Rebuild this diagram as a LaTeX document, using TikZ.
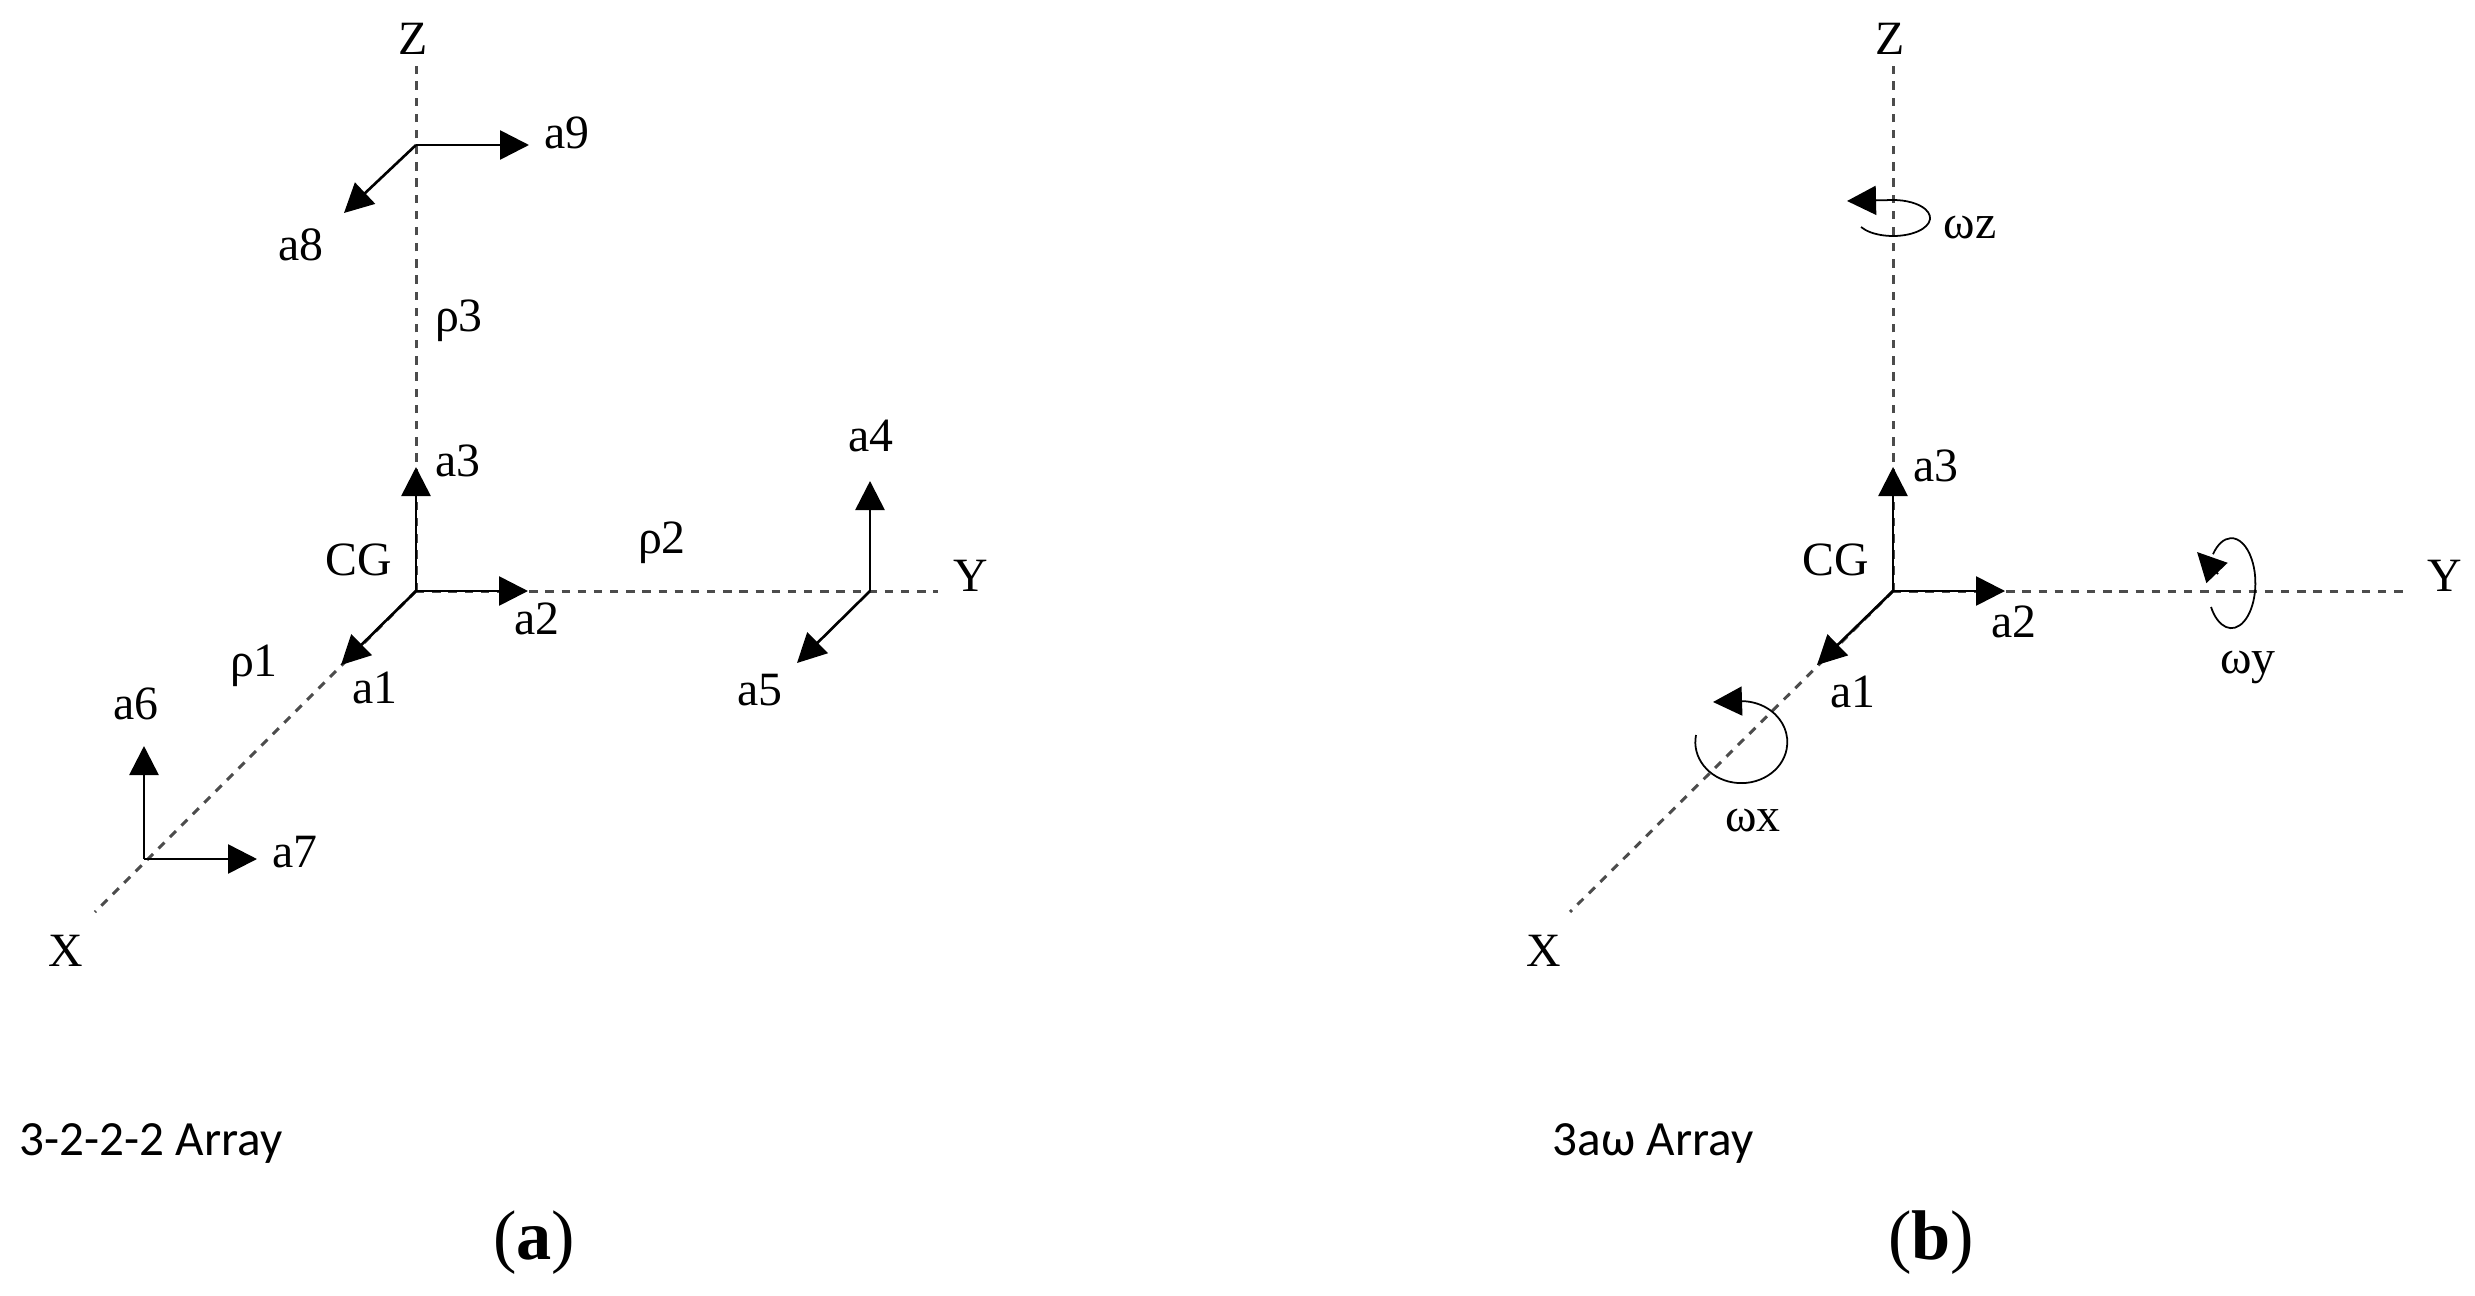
\documentclass[tikz,border=0pt]{standalone}
\usepackage{fontspec}
\setmainfont{Liberation Serif}
\newfontfamily\capfont{Carlito}
\usetikzlibrary{arrows.meta}
\tikzset{
  axisline/.style={line width=0.85pt,black!70,dash pattern=on 2.4pt off 2.2pt},
  vec/.style={line width=0.75pt,-{Triangle[length=2.9mm,width=2.9mm]}},
  rotvec/.style={line width=0.5pt,-{Triangle[length=2.9mm,width=2.9mm]}},
  lab/.style={inner sep=0pt,font=\fontsize{13.6}{16}\selectfont},
  arrayname/.style={inner sep=0pt,anchor=west,font=\capfont\fontsize{14}{16}\selectfont},
  subfig/.style={inner sep=0pt,font=\fontsize{20}{24}\selectfont}
}
\begin{document}
\begin{tikzpicture}
\useasboundingbox (0,0) rectangle (24.75,12.95);
% left picture
\coordinate (cgl) at (4.16,7.04);
\coordinate (zendl) at (4.16,12.29);
\coordinate (yendl) at (9.38,7.04);
\coordinate (xendl) at (0.95,3.83);
\coordinate (a1tipl) at (3.41,6.30);
\coordinate (a2tipl) at (5.28,7.04);
\coordinate (a3tipl) at (4.16,8.28);
\coordinate (p2) at (8.70,7.04);
\coordinate (a4tip) at (8.70,8.14);
\coordinate (a5tip) at (7.97,6.32);
\coordinate (p1) at (1.44,4.36);
\coordinate (a6tip) at (1.44,5.49);
\coordinate (a7tip) at (2.57,4.36);
\coordinate (p3) at (4.16,11.50);
\coordinate (a8tip) at (3.44,10.82);
\coordinate (a9tip) at (5.29,11.50);
\draw[axisline] (cgl) -- (zendl);
\draw[axisline] (cgl) -- (yendl);
\draw[axisline] (cgl) -- (xendl);
\draw[vec] (cgl) -- (a1tipl);
\draw[vec] (cgl) -- (a2tipl);
\draw[vec] (cgl) -- (a3tipl);
\draw[vec] (p2) -- (a4tip);
\draw[vec] (p2) -- (a5tip);
\draw[vec] (p1) -- (a6tip);
\draw[vec] (p1) -- (a7tip);
\draw[vec] (p3) -- (a8tip);
\draw[vec] (p3) -- (a9tip);
\node[lab] (zl) at (4.13,12.56) {Z};
\node[lab] (yl) at (9.71,7.19) {Y};
\node[lab] (xl) at (0.66,3.44) {X};
\node[lab] (cgnamel) at (3.59,7.35) {CG};
\node[lab] (a1l) at (3.75,6.07) {a1};
\node[lab] (a2l) at (5.37,6.76) {a2};
\node[lab] (a3l) at (4.58,8.34) {a3};
\node[lab] (a4) at (8.71,8.59) {a4};
\node[lab] (a5) at (7.60,6.05) {a5};
\node[lab] (a6) at (1.36,5.91) {a6};
\node[lab] (a7) at (2.95,4.43) {a7};
\node[lab] (a8) at (3.01,10.50) {a8};
\node[lab] (a9) at (5.67,11.62) {a9};
\node[lab] (rho1) at (2.54,6.29) {ρ1};
\node[lab] (rho2) at (6.62,7.52) {ρ2};
\node[lab] (rho3) at (4.59,9.74) {ρ3};
\node[arrayname] (namel) at (0.19,1.52) {3-2-2-2 Array};
\node[subfig] (suba) at (5.34,0.52) {(\textbf{a})};
% right picture
\coordinate (cgr) at (18.93,7.04);
\coordinate (zendr) at (18.93,12.29);
\coordinate (yendr) at (24.10,7.04);
\coordinate (xendr) at (15.70,3.83);
\coordinate (a1tipr) at (18.17,6.30);
\coordinate (a2tipr) at (20.05,7.04);
\coordinate (a3tipr) at (18.93,8.28);
\coordinate (wzstart) at (18.61,10.68);
\coordinate (wztip) at (18.47,10.94);
\coordinate (wxstart) at (16.96,5.60);
\coordinate (wxtip) at (17.13,5.93);
\coordinate (wystart) at (22.11,6.88);
\coordinate (wybase) at (22.18,7.21);
\coordinate (wytip) at (21.97,7.43);
\draw[axisline] (cgr) -- (zendr);
\draw[axisline] (cgr) -- (yendr);
\draw[axisline] (cgr) -- (xendr);
\draw[vec] (cgr) -- (a1tipr);
\draw[vec] (cgr) -- (a2tipr);
\draw[vec] (cgr) -- (a3tipr);
\draw[rotvec] (wzstart) arc[start angle=210,end angle=450,x radius=0.37cm,y radius=0.18cm] -- (wztip);
\draw[rotvec] (wxstart) arc[start angle=170,end angle=450,x radius=0.46cm,y radius=0.41cm] -- (wxtip);
\draw[line width=0.5pt] (wystart) arc[start angle=212,end angle=500,x radius=0.24cm,y radius=0.45cm];
\draw[rotvec] (wybase) -- (wytip);
\node[lab] (zr) at (18.90,12.56) {Z};
\node[lab] (yr) at (24.45,7.19) {Y};
\node[lab] (xr) at (15.44,3.44) {X};
\node[lab] (cgnamer) at (18.36,7.35) {CG};
\node[lab] (a1r) at (18.53,6.03) {a1};
\node[lab] (a2r) at (20.14,6.73) {a2};
\node[lab] (a3r) at (19.36,8.29) {a3};
\node[lab] (wz) at (19.70,10.67) {ωz};
\node[lab] (wy) at (22.48,6.28) {ωy};
\node[lab] (wx) at (17.53,4.74) {ωx};
\node[arrayname] (namer) at (15.52,1.52) {3aω Array};
\node[subfig] (subb) at (19.31,0.52) {(\textbf{b})};
\end{tikzpicture}
\end{document}
